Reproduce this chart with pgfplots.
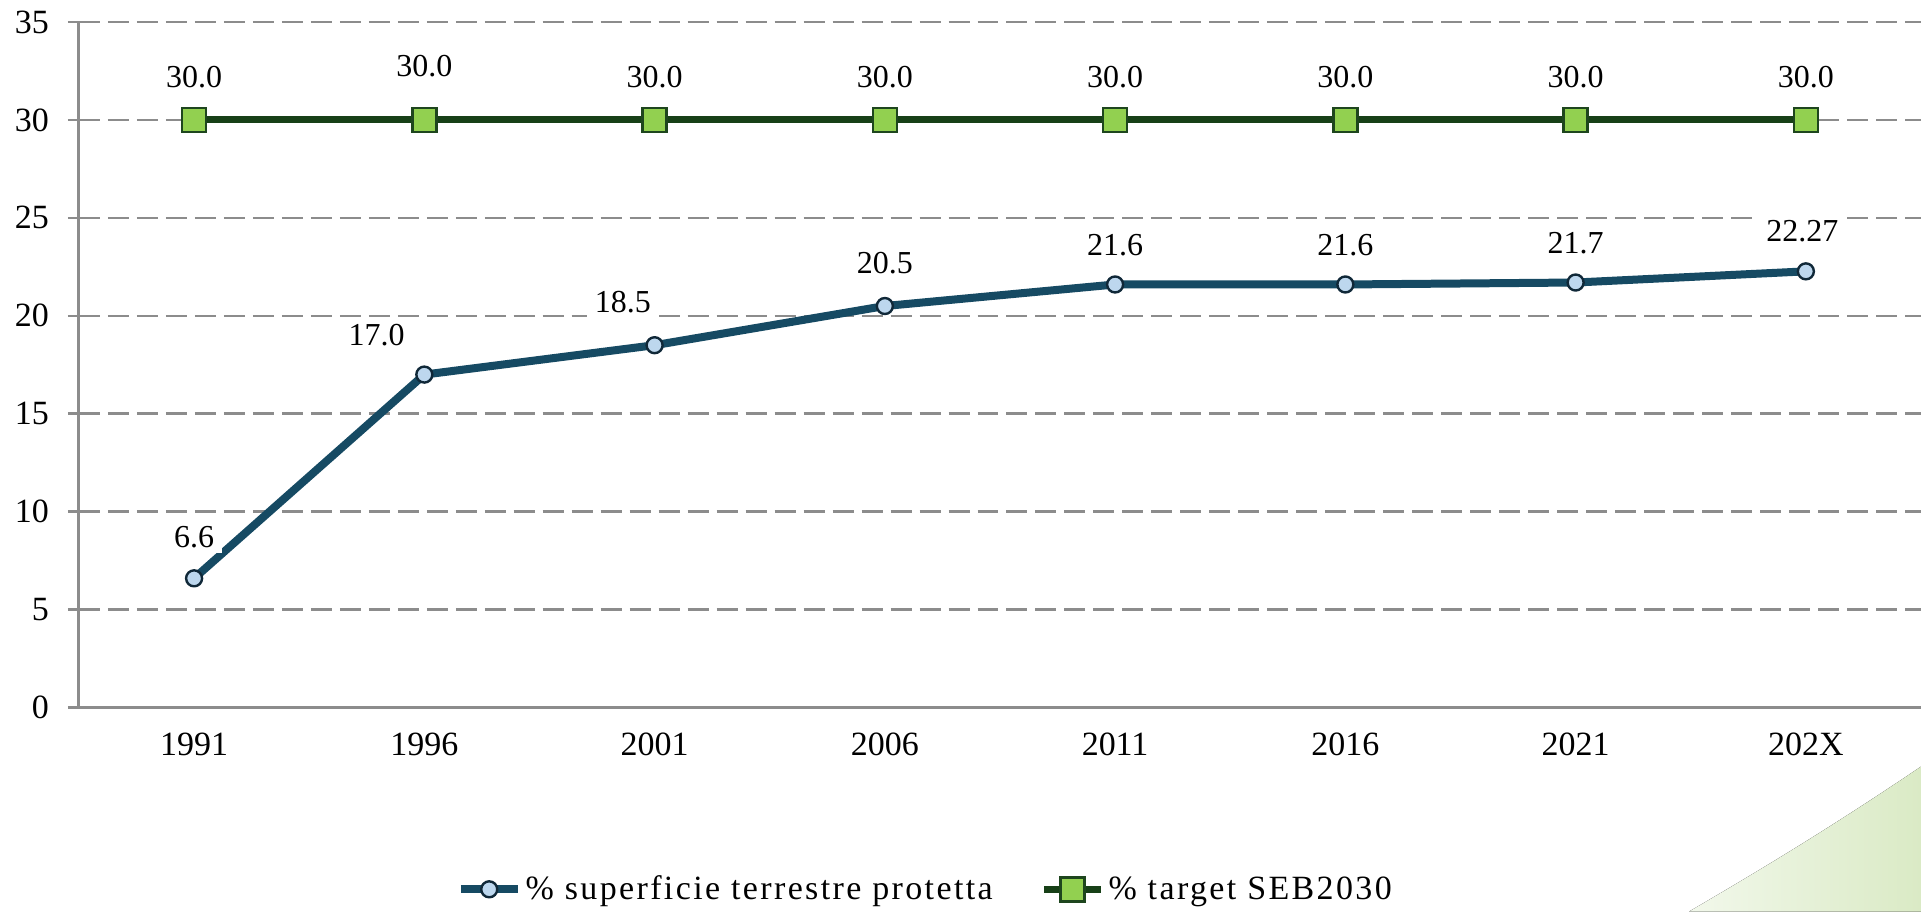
\documentclass[border=0pt]{standalone}
\usepackage{pgfplots}
\pgfplotsset{compat=1.18}
\usepackage{pgfplotstable}
\usepackage{fontspec}
\setmainfont{Liberation Serif}
\newfontfamily\legfont[LetterSpace=7]{Liberation Serif}
\usetikzlibrary{calc}
\definecolor{lineA}{RGB}{22,74,99}
\definecolor{markA}{RGB}{189,215,238}
\definecolor{markAedge}{RGB}{16,40,56}
\definecolor{lineB}{RGB}{23,64,23}
\definecolor{markB}{RGB}{146,208,80}
\definecolor{markBedge}{RGB}{30,70,30}
\definecolor{gridgray}{RGB}{140,140,140}
\definecolor{swA}{RGB}{242,248,235}
\definecolor{swB}{RGB}{218,234,197}

\pgfplotstableread{
x y lab dx dy
0 6.6 6.6 0 20.8
1 17.0 17.0 -23.9 19.6
2 18.5 18.5 -15.9 21.4
3 20.5 20.5 0 21.4
4 21.6 21.6 0 19.6
5 21.6 21.6 0 19.6
6 21.7 21.7 0 19.6
7 22.27 22.27 -1.8 20.2
}\protA

\pgfplotstableread{
x y lab dx dy
0 30 30.0 0 21.4
1 30 30.0 0 27.0
2 30 30.0 0 21.4
3 30 30.0 0 21.4
4 30 30.0 0 21.4
5 30 30.0 0 21.4
6 30 30.0 0 21.4
7 30 30.0 0 21.4
}\targetB

\begin{document}
\begin{tikzpicture}
\begin{axis}[
  scale only axis, width=921.5pt, height=343pt,
  xmin=-0.5, xmax=7.5, ymin=0, ymax=35,
  xtick={0,...,7},
  xticklabels={1991,1996,2001,2006,2011,2016,2021,202X},
  ytick={0,5,...,35},
  axis x line*=bottom, axis y line*=left,
  axis line style={draw=gridgray, line width=1.5pt},
  ymajorgrids,
  major grid style={gridgray, line width=1.3pt, dash pattern=on 10.5pt off 4pt},
  xtick style={draw=none},
  ytick style={draw=gridgray, line width=1.3pt},
  ytick align=center,
  major tick length=11pt,
  tick label style={font=\rmfamily\fontsize{17}{20}\selectfont},
  /pgf/number format/assume math mode=true,
  xticklabel style={yshift=-9pt},
  yticklabel style={xshift=-6pt},
  legend columns=2,
  legend style={at={(0.46,-0.265)}, anchor=center, draw=none, fill=none,
    font=\legfont\fontsize{17}{20}\selectfont,
    /tikz/every even column/.append style={column sep=22pt}},
  legend image code/.code={\draw[mark repeat=2,mark phase=2,#1] plot coordinates {(0cm,0cm) (0.5cm,0cm) (1cm,0cm)};},
  clip=false,
]
\addplot[lineA, line width=4pt, line join=round, mark=*, mark size=4pt,
  mark options={fill=markA, draw=markAedge, line width=1.2pt},
  nodes near coords, point meta=explicit symbolic,
  visualization depends on={\thisrow{dx}\as\dx},
  visualization depends on={\thisrow{dy}\as\dy},
  every node near coord/.style={anchor=center, xshift=\dx pt, yshift=\dy pt, fill=white, text=black, inner xsep=4pt, inner ysep=2.5pt, font=\rmfamily\fontsize{16}{18}\selectfont}]
  table[x=x, y=y, meta=lab]{\protA};
\addlegendentry{\% superficie terrestre protetta}
\addplot[lineB, line width=3.5pt, mark=square*, mark size=6pt,
  mark options={fill=markB, draw=markBedge, line width=1.2pt},
  nodes near coords, point meta=explicit symbolic,
  visualization depends on={\thisrow{dx}\as\dx},
  visualization depends on={\thisrow{dy}\as\dy},
  every node near coord/.style={anchor=center, xshift=\dx pt, yshift=\dy pt, text=black, inner sep=1pt, font=\rmfamily\fontsize{16}{18}\selectfont}]
  table[x=x, y=y, meta=lab]{\targetB};
\addlegendentry{\% target SEB2030}
\coordinate (ll) at (rel axis cs:0,0);
\coordinate (ur) at (rel axis cs:1,1);
\end{axis}
\coordinate (BL) at ($(ll)+(-39.5pt,-102pt)$);
\fill[left color=swA, right color=swB]
  ([shift={(845pt,0pt)}]BL) .. controls ([shift={(883.5pt,22.5pt)}]BL) and ([shift={(916.5pt,42.5pt)}]BL) ..
  ([shift={(961pt,72.5pt)}]BL) -- ([shift={(961pt,0pt)}]BL) -- cycle;
\pgfresetboundingbox
\path[use as bounding box] (BL) rectangle ($(ur)+(0,11pt)$);
\end{tikzpicture}
\end{document}
